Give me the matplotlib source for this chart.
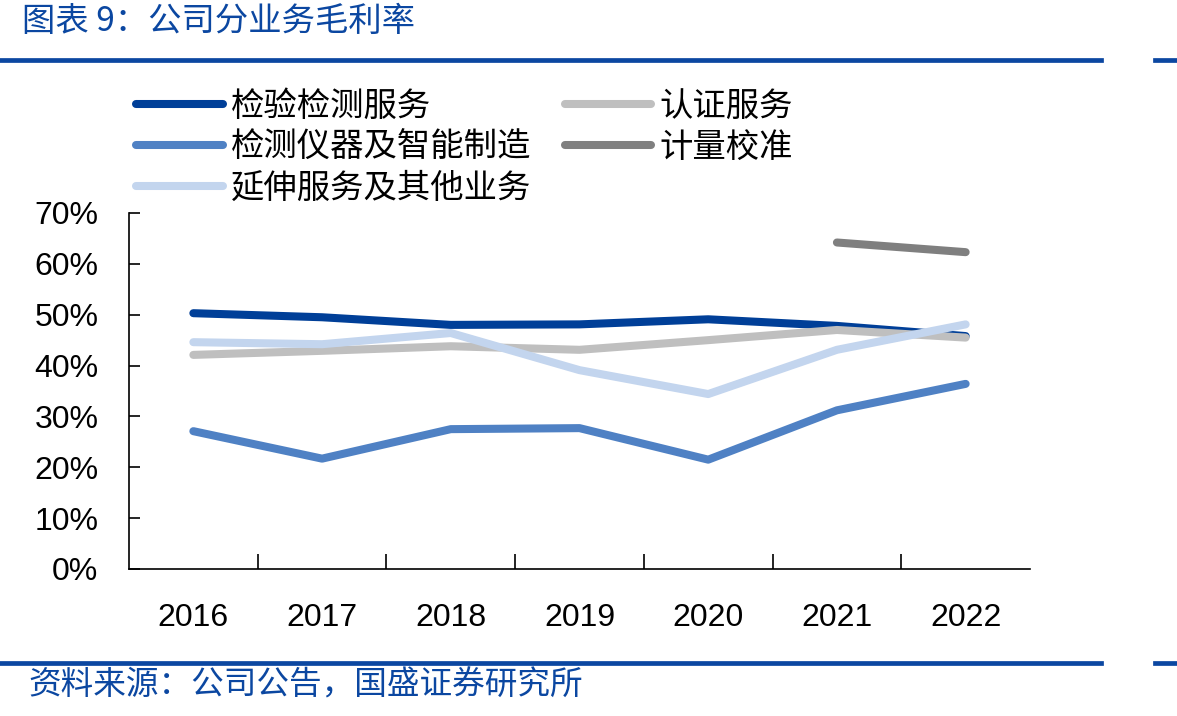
import matplotlib
matplotlib.use("Agg")
import matplotlib.pyplot as plt
import numpy as np
from matplotlib.lines import Line2D

plt.rcParams['font.family'] = ['Noto Sans CJK SC', 'DejaVu Sans']

years = ['2016', '2017', '2018', '2019', '2020', '2021', '2022']
inspection = [50.3, 49.5, 48.0, 48.1, 49.1, 47.8, 45.8]
certification = [42.1, 42.9, 43.8, 43.1, 45.0, 47.0, 45.5]
instruments = [27.1, 21.7, 27.5, 27.7, 21.5, 31.2, 36.4]
extended = [44.6, 44.2, 46.4, 39.1, 34.4, 43.1, 48.1]
calibration = [np.nan, np.nan, np.nan, np.nan, np.nan, 64.2, 62.3]
yticks = [0, 10, 20, 30, 40, 50, 60, 70]

series = [
    ('检验检测服务', inspection, '#003f98'),
    ('检测仪器及智能制造', instruments, '#4f81c4'),
    ('延伸服务及其他业务', extended, '#c3d5ee'),
    ('认证服务', certification, '#bfbfbf'),
    ('计量校准', calibration, '#7f7f7f'),
]
draw_order = [0, 3, 1, 2, 4]

W, H = 1177, 716
fig = plt.figure(figsize=(W / 100, H / 100), dpi=100)
ax = fig.add_axes([129 / W, 1 - 569 / H, (1030 - 129) / W, (569 - 213) / H])

x = np.arange(len(years))
for i in draw_order:
    name, vals, col = series[i]
    ax.plot(x, vals, color=col, lw=5.8, solid_capstyle='round', solid_joinstyle='round', zorder=3)

tick_font = 'Liberation Sans'
ax.set_xlim(-0.5, len(years) - 0.5)
ax.set_ylim(0, 70)
ax.set_yticks(yticks)
ax.set_yticklabels([f'{v}%' for v in yticks], fontsize=23, family=tick_font)
ax.tick_params(axis='y', direction='in', length=8, width=1.2, pad=22)
ax.set_xticks(np.arange(0.5, len(years) - 0.5, 1))
ax.set_xticklabels([])
ax.tick_params(axis='x', which='major', direction='in', length=11, width=1.2)
ax.set_xticks(x, minor=True)
ax.set_xticklabels(years, minor=True, fontsize=23, family=tick_font)
ax.tick_params(axis='x', which='minor', length=0, pad=24.5)
for s in ['top', 'right']:
    ax.spines[s].set_visible(False)
for s in ['left', 'bottom']:
    ax.spines[s].set_linewidth(1.2)

handles = [Line2D([], [], color=c, lw=5.8, solid_capstyle='round') for _, _, c in series]
labels = [n for n, _, _ in series]
fig.legend(handles, labels, ncol=2, loc='upper left', bbox_to_anchor=(136 / W, 1 - 89 / H),
           frameon=False, fontsize=24, handlelength=2.6, handletextpad=0.25,
           columnspacing=1.0, borderpad=0, borderaxespad=0, labelspacing=0.18)

blue = '#0b47a1'
fig.text(22 / W, 1 - 21 / H, '图表 9：公司分业务毛利率', fontsize=24, color=blue, va='center', ha='left',
         family=['Noto Sans CJK SC', 'DejaVu Sans'])
fig.text(28 / W, 1 - 686 / H, '资料来源：公司公告，国盛证券研究所', fontsize=23.5, color=blue, va='center', ha='left',
         family=['Noto Sans CJK SC', 'DejaVu Sans'])

for yy in [59.5, 663]:
    fig.add_artist(Line2D([0, 1101 / W], [1 - yy / H] * 2, color='#0b47a1', lw=3.4))
    fig.add_artist(Line2D([1155 / W, 1], [1 - yy / H] * 2, color='#0b47a1', lw=3.4))

fig.savefig('out.png', dpi=100)
